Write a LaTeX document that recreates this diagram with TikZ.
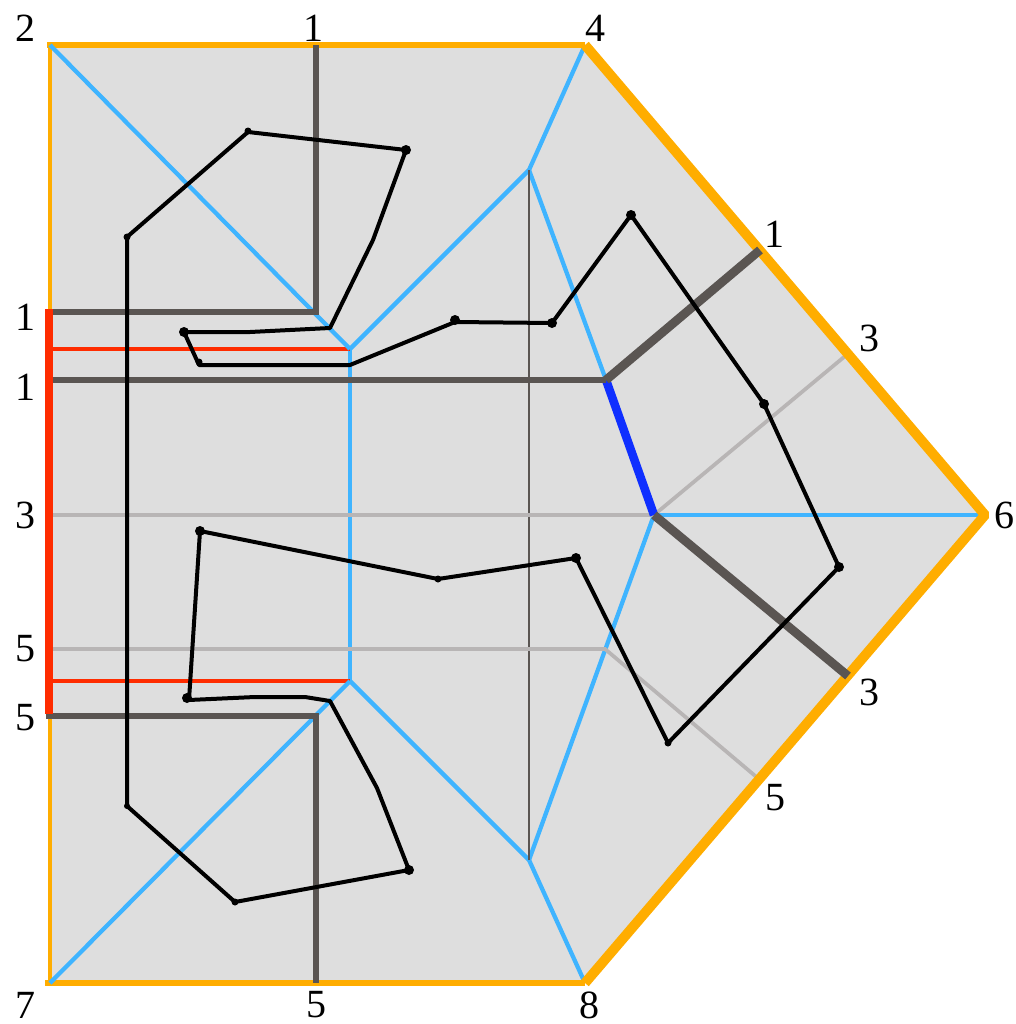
\documentclass[tikz,border=0pt]{standalone}
\usepackage{fontspec}
\setmainfont{Liberation Serif}
\begin{document}
\begin{tikzpicture}[x=0.75pt,y=-0.75pt,
  sheet/.style={fill=sheetgray,draw=none},
  edgeo/.style={draw=edgeorange},
  edger/.style={draw=edgered},
  hinge/.style={draw=hingeblue,line width=3.2pt},
  darkl/.style={draw=darkgray2},
  lightl/.style={draw=lightgray2,line width=2.8pt},
  spine/.style={draw=darkgray2,line width=1.9pt},
  strand/.style={draw=black,line width=3pt,line join=round},
  dotmark/.style={fill=black,draw=none},
  lab/.style={font=\fontsize{30}{30}\selectfont,inner sep=0pt,text=black}]
\definecolor{sheetgray}{HTML}{DEDEDE}
\definecolor{edgeorange}{HTML}{FFAD00}
\definecolor{edgered}{HTML}{FF2C00}
\definecolor{hingeblue}{HTML}{3FB4FF}
\definecolor{darkgray2}{HTML}{5A5552}
\definecolor{lightgray2}{HTML}{B8B5B5}
\definecolor{strongblue}{HTML}{0F2FFF}
\useasboundingbox (0,0) rectangle (1015,1024);
% corners and vertices
\coordinate (A) at (50,45);
\coordinate (B) at (585,45);
\coordinate (C) at (985,515);
\coordinate (D) at (585,983);
\coordinate (E) at (50,983);
\coordinate (F) at (350,349);
\coordinate (G) at (350,681);
\coordinate (H) at (529,170);
\coordinate (I) at (529,860);
\coordinate (J) at (606,380);
\coordinate (K) at (654,515);
\fill[sheet] (A) -- (B) -- (C) -- (D) -- (E) -- cycle;
% hinge lines
\draw[hinge] (F) -- (G);
\draw[hinge] (B) -- (H) -- (F);
\draw[hinge] (G) -- (I) -- (D);
\draw[hinge] (H) -- (J);
\draw[hinge] (K) -- (C);
\draw[hinge] (K) -- (I);
\draw[spine] (H) -- (I);
% light lines
\draw[lightl] (50,515) -- (K) -- (850,352);
\draw[lightl] (50,649) -- (605,649) -- (760,780);
% red
\draw[edger,line width=2.8pt] (50,349) -- (F);
\draw[edger,line width=2.8pt] (50,681) -- (G);
% outer edges
\draw[edgeo,line width=2.8pt] (A) -- (50,312);
\draw[edgeo,line width=2.8pt] (50,716) -- (E);
\draw[edgeo,line width=4.6pt] (47,45) -- (B);
\draw[edgeo,line width=5pt] (45,983) -- (D);
\draw[edgeo,line width=7.4pt,line join=bevel] (B) -- (C) -- (D);
\draw[hinge] (A) -- (F);
\draw[hinge] (E) -- (G);
% blue crease under the dark lines
\draw[draw=strongblue,line width=6.4pt] (J) -- (K);
% dark lines
\draw[darkl,line width=5.2pt] (46,312) -- (316,312) -- (316,45);
\draw[darkl,line width=5.2pt] (46,716) -- (316,716) -- (316,983);
\draw[darkl,line width=5.2pt] (46,380) -- (J);
\draw[darkl,line width=6.6pt] (J) -- (760,250);
\draw[darkl,line width=6.6pt] (K) -- (848,676);
\draw[edger,line width=5.4pt] (49,309) -- (49,714);
% strand
\draw[strand] (127,237) -- (248,132) -- (406,150) -- (373,240) -- (330,328) -- (250,332) -- (184,332) -- (199,365) -- (350,365) -- (455,322) -- (552,323) -- (631,215) -- (764,404) -- (839,567) -- (668,743) -- (576,558) -- (438,579) -- (200,531) -- (189,700) -- (255,697) -- (305,697) -- (330,701) -- (377,788) -- (409,870) -- (235,902) -- (127,806) -- cycle;
\foreach \x/\y/\r in {127/237/3.5,248/131/3.5,406/150/5,184/332/5,199/362/3.5,455/320/5,552/323/5,631/215/5,764/404/5,839/567/5,668/743/3.5,576/558/5,438/579/3.5,200/531/5,187/698/5,409/870/5,235/902/3.5,127/806/3}{
  \fill[dotmark] (\x,\y) circle[radius=\r*0.75pt];
}
% labels
\node[lab] (l2) at (26,28) {2};
\node[lab] (l1a) at (313,28) {1};
\node[lab] (l4) at (595,28) {4};
\node[lab] (l1b) at (774,234) {1};
\node[lab] (l3a) at (869,338) {3};
\node[lab] (l6) at (1004,515) {6};
\node[lab] (l3b) at (869,692) {3};
\node[lab] (l5a) at (775,798) {5};
\node[lab] (l8) at (589,1005) {8};
\node[lab] (l5b) at (316,1005) {5};
\node[lab] (l7) at (26,1005) {7};
\node[lab] (l5c) at (26,718) {5};
\node[lab] (l5d) at (26,649) {5};
\node[lab] (l3c) at (26,515) {3};
\node[lab] (l1c) at (26,387) {1};
\node[lab] (l1d) at (26,317) {1};
\end{tikzpicture}
\end{document}
